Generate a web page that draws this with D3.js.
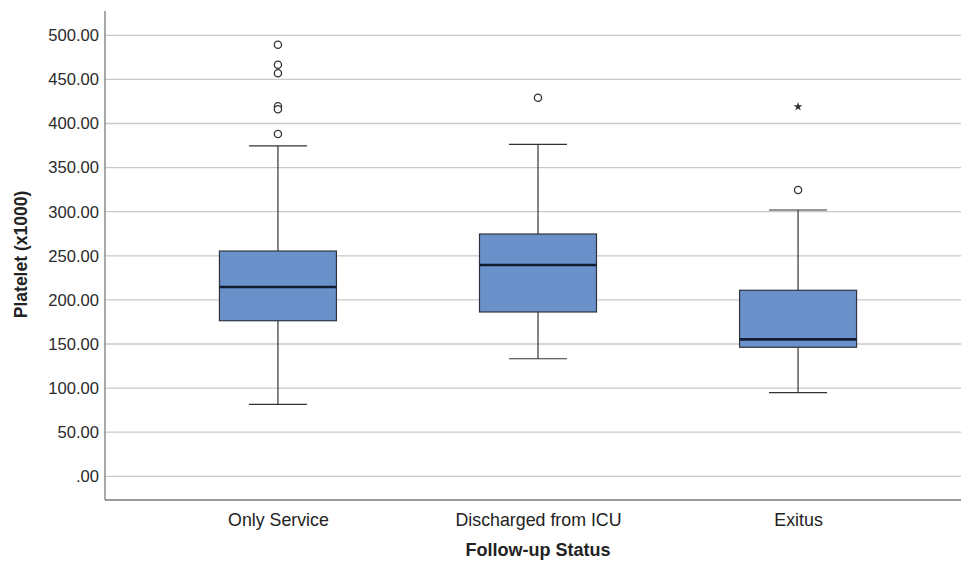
<!DOCTYPE html>
<html>
<head>
<meta charset="utf-8">
<script src="https://cdn.jsdelivr.net/npm/d3@7"></script>
<style>
  html, body { margin: 0; padding: 0; background: #fff; }
  svg { display: block; font-family: "Liberation Sans", Arial, sans-serif; }
</style>
</head>
<body>
<svg id="chart" width="961" height="561"></svg>
<script>
// Follow-up groups and their platelet box-plot statistics (x1000)
const categories = ["Only Service", "Discharged from ICU", "Exitus"];
const whiskerLow  = [81.6, 133.3, 94.8];
const q1          = [176.4, 186.3, 146.3];
const median      = [214.6, 239.5, 155.3];
const q3          = [255.4, 274.7, 210.9];
const whiskerHigh = [374.7, 376.4, 301.9];
// Outliers (circles) and extreme values (stars) per group
const outliers = [
  [489.3, 466.6, 456.9, 419.5, 416.1, 388.1],
  [429.2],
  [324.6]
];
const extremes = [[], [], [419.0]];
const yTicks = [0, 50, 100, 150, 200, 250, 300, 350, 400, 450, 500];

const svg = d3.select("#chart");
const plotLeft = 105, plotRight = 971, plotTop = 11, plotBottom = 500;

const y = d3.scaleLinear().domain([0, 500]).range([476.3, 35.3]);
const x = d3.scalePoint().domain(categories).range([plotLeft, plotRight]).padding(0.665);
const boxW = 117, capW = 58;

// gridlines
svg.append("g").selectAll("line").data(yTicks).join("line")
  .attr("x1", plotLeft).attr("x2", 961)
  .attr("y1", d => y(d)).attr("y2", d => y(d))
  .attr("stroke", "#c9c9c9").attr("stroke-width", 1.3);

// y axis
const yAxis = svg.append("g").attr("transform", `translate(${plotLeft},0)`)
  .call(d3.axisLeft(y).tickValues(yTicks).tickSize(0).tickPadding(6)
    .tickFormat(d => d === 0 ? ".00" : d3.format(".2f")(d)));
yAxis.select(".domain").remove();
yAxis.selectAll("text").attr("font-size", 16.6).attr("fill", "#2a2a2a")
  .attr("font-family", "Liberation Sans, Arial, sans-serif");

// axis frame lines
svg.append("line").attr("x1", plotLeft).attr("x2", plotLeft).attr("y1", plotTop).attr("y2", plotBottom)
  .attr("stroke", "#7a7a7a").attr("stroke-width", 1.3);
svg.append("line").attr("x1", plotLeft).attr("x2", 961).attr("y1", plotBottom).attr("y2", plotBottom)
  .attr("stroke", "#7a7a7a").attr("stroke-width", 1.3);

// x axis labels
const xAxis = svg.append("g").attr("transform", `translate(0,${plotBottom})`)
  .call(d3.axisBottom(x).tickSize(0).tickPadding(0));
xAxis.select(".domain").remove();
xAxis.selectAll("text").attr("font-size", 17.8).attr("fill", "#222")
  .attr("dy", null).attr("y", 26)
  .attr("font-family", "Liberation Sans, Arial, sans-serif");

// boxes
const data = categories.map((c, i) => ({
  c, lo: whiskerLow[i], q1: q1[i], med: median[i], q3: q3[i], hi: whiskerHigh[i],
  out: outliers[i], ext: extremes[i]
}));
const g = svg.append("g").selectAll("g").data(data).join("g");

// whisker stems
g.append("line").attr("x1", d => x(d.c)).attr("x2", d => x(d.c))
  .attr("y1", d => y(d.hi)).attr("y2", d => y(d.q3))
  .attr("stroke", "#333").attr("stroke-width", 1.2);
g.append("line").attr("x1", d => x(d.c)).attr("x2", d => x(d.c))
  .attr("y1", d => y(d.q1)).attr("y2", d => y(d.lo))
  .attr("stroke", "#333").attr("stroke-width", 1.2);
// whisker caps
g.selectAll(".cap").data(d => [d.lo, d.hi].map(v => ({ c: d.c, v }))).join("line")
  .attr("class", "cap")
  .attr("x1", d => x(d.c) - capW / 2).attr("x2", d => x(d.c) + capW / 2)
  .attr("y1", d => y(d.v)).attr("y2", d => y(d.v))
  .attr("stroke", "#333").attr("stroke-width", 1.2);
// box body
g.append("rect")
  .attr("x", d => x(d.c) - boxW / 2).attr("width", boxW)
  .attr("y", d => y(d.q3)).attr("height", d => y(d.q1) - y(d.q3))
  .attr("fill", "#6a91c9").attr("stroke", "#2c3440").attr("stroke-width", 1.2);
// median
g.append("line")
  .attr("x1", d => x(d.c) - boxW / 2).attr("x2", d => x(d.c) + boxW / 2)
  .attr("y1", d => y(d.med)).attr("y2", d => y(d.med))
  .attr("stroke", "#111d33").attr("stroke-width", 2.6);

// outlier circles
g.selectAll(".out").data(d => d.out.map(v => ({ c: d.c, v }))).join("circle")
  .attr("class", "out")
  .attr("cx", d => x(d.c)).attr("cy", d => y(d.v)).attr("r", 3.6)
  .attr("fill", "#fff").attr("stroke", "#333").attr("stroke-width", 1.3);
// extreme value stars
g.selectAll(".ext").data(d => d.ext.map(v => ({ c: d.c, v }))).join("path")
  .attr("class", "ext")
  .attr("transform", d => `translate(${x(d.c)},${y(d.v)})`)
  .attr("d", d3.symbol(d3.symbolStar, 24))
  .attr("fill", "#333");

// axis titles
svg.append("text")
  .attr("transform", `translate(27,254.5) rotate(-90)`)
  .attr("text-anchor", "middle").attr("font-size", 17.5).attr("font-weight", "bold")
  .attr("fill", "#222").text("Platelet (x1000)");
svg.append("text")
  .attr("x", x("Discharged from ICU")).attr("y", 556)
  .attr("text-anchor", "middle").attr("font-size", 18).attr("font-weight", "bold")
  .attr("fill", "#222").text("Follow-up Status");
</script>
</body>
</html>
